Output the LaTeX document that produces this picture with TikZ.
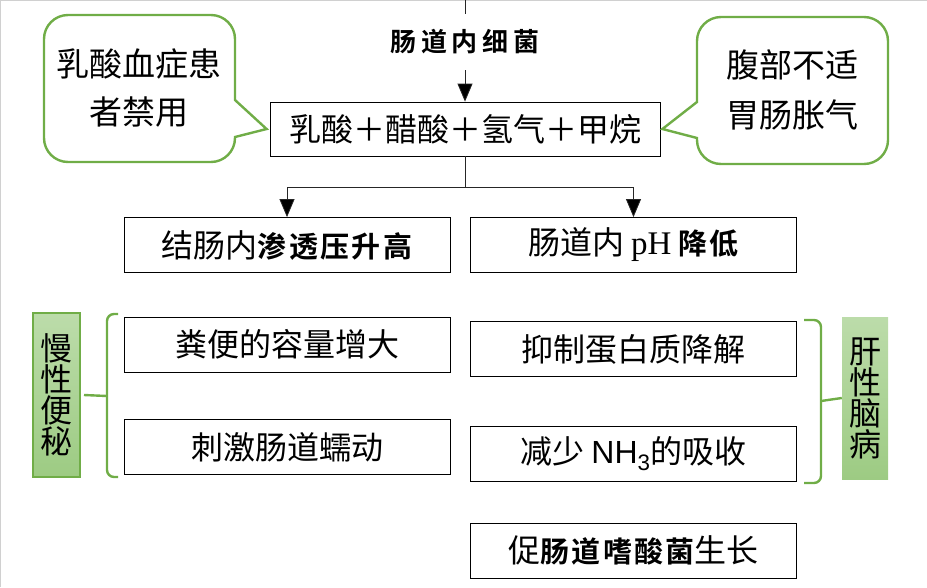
\documentclass[tikz,border=0pt]{standalone}
\usepackage{fontspec}
\setmainfont{Liberation Serif}
\newfontfamily\cjk{Noto Sans CJK SC}
\newfontfamily\heavy[LetterSpace=8]{Noto Sans CJK SC Bold}
\newfontfamily\heavywide[LetterSpace=18]{Noto Sans CJK SC Bold}
\newfontfamily\arial{Liberation Sans}
\usetikzlibrary{arrows.meta}
\usetikzlibrary{positioning}

\definecolor{calloutgreen}{HTML}{70AD47}
\definecolor{tagtop}{HTML}{BCDCAA}
\definecolor{tagbottom}{HTML}{9DCB83}
\definecolor{framegray}{HTML}{D0D0D0}

\newcommand{\bd}[1]{{\heavy\fontsize{29}{32}\selectfont #1}}

\tikzset{
  stepbox/.style={draw, line width=0.8pt, minimum width=326pt, minimum height=55pt, inner sep=0pt, font=\cjk\fontsize{32}{36}\selectfont},
  bubble/.style={draw=calloutgreen, line width=2.4pt},
  bubbletext/.style={align=center, font=\cjk\fontsize{33}{48}\selectfont},
  tag/.style={top color=tagtop, bottom color=tagbottom, minimum width=47pt, minimum height=164pt, inner sep=0pt, align=center, font=\cjk\fontsize{32}{31}\selectfont},
  brace/.style={draw=calloutgreen, line width=2.4pt, rounded corners=7pt},
  flow/.style={draw=black!85, line width=0.8pt, -{Triangle[length=18pt,width=15pt,fill=black]}}
}

\begin{document}
\begin{tikzpicture}[x=1pt, y=-1pt]
\useasboundingbox (0,0) rectangle (927,587);
\draw[framegray, line width=1pt] (0.5,587) -- (0.5,0.5) -- (927,0.5);

% source and the gases
\coordinate (src) at (465,0);
\node[font=\heavywide\fontsize{26}{28}\selectfont, minimum height=56pt, inner sep=0pt] (bact) at (465,42) {肠道内细菌};
\node[stepbox, minimum width=390pt, minimum height=54pt] (mix) at (465,129) {乳酸＋醋酸＋氢气＋甲烷};

% callouts
\node[bubbletext] (warn) at (139,88) {乳酸血症患\\者禁用};
\draw[bubble] ([xshift=-3pt]mix.west) -- (235,100) [rounded corners=24pt] -- (235,15) -- (44,15) -- (44,162) -- (235,162) [sharp corners] -- (235,137) -- cycle;
\node[bubbletext, font=\cjk\fontsize{33}{50}\selectfont] (gas) at (792,90) {腹部不适\\胃肠胀气};
\draw[bubble] ([xshift=2pt]mix.east) -- (697,102) [rounded corners=24pt] -- (697,17) -- (888,17) -- (888,164) -- (697,164) [sharp corners] -- (697,138) -- cycle;

% effects
\node[stepbox] (osmo) at (287,245) {结肠内\bd{渗透压升高}};
\node[stepbox] (acid) at (633.5,245) {肠道内 {\rmfamily\fontsize{33}{36}\selectfont pH} \bd{降低}};
\node[stepbox] (stool) at (287,344.5) {粪便的容量增大};
\node[stepbox] (motil) at (287,447) {刺激肠道蠕动};
\node[stepbox] (prot) at (633.5,349) {抑制蛋白质降解};
\node[stepbox] (ammon) at (633.5,454) {减少 {\arial NH\textsubscript{3}}的吸收};
\node[stepbox] (grow) at (633.5,550.5) {促\bd{肠道嗜酸菌}生长};

% diseases
\node[tag, draw=calloutgreen, line width=2pt] (constip) at (56.5,395) {慢\\性\\便\\秘};
\node[tag, minimum width=46pt, minimum height=162pt] (liver) at (865,398) {肝\\性\\脑\\病};

% connectors
\draw[line width=0.8pt, black!85] (src) -- (bact.north);
\draw[flow] (bact.south) -- (mix.north);
\draw[flow] (mix.south) -- ++(0,31) -| (osmo.north);
\draw[flow] (mix.south) -- ++(0,31) -| (acid.north);

% braces
\draw[brace] (118,314) -- (107,314) -- (107,477) -- (118,477);
\draw[brace] (107,396) -- ([xshift=3pt]constip.east);
\draw[brace] (804,320) -- (821,320) -- (821,483) -- (804,483);
\draw[brace] (821,401) -- (liver.west);

\end{tikzpicture}
\end{document}
